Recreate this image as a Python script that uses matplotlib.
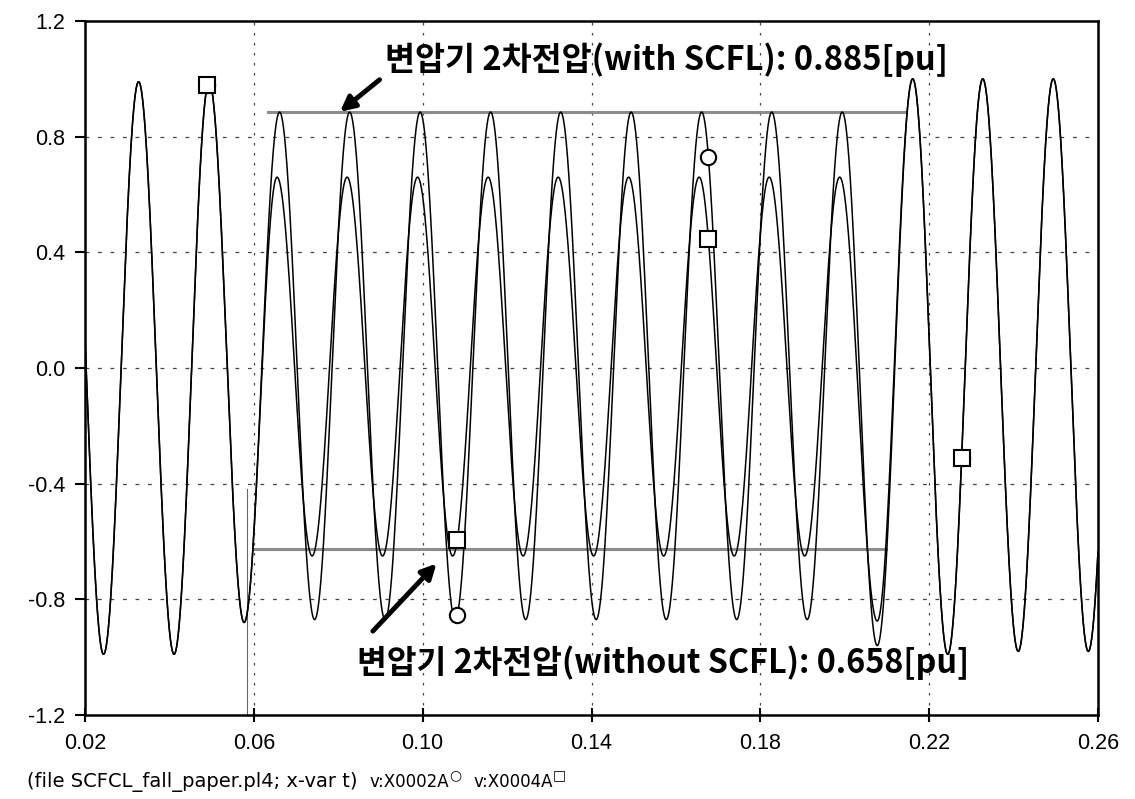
import numpy as np
import matplotlib
matplotlib.use("Agg")
import matplotlib.pyplot as plt

# ---------------- data ----------------
# extrema (peaks / troughs) of v:X0002A  (with SCFL)
t_ext_A = [0.0161, 0.0244, 0.0327, 0.0411, 0.0494, 0.0577, 0.0661, 0.0744, 0.0827,
           0.0911, 0.0994, 0.1077, 0.1161, 0.1244, 0.1327, 0.1411, 0.1494, 0.1577,
           0.1661, 0.1744, 0.1827, 0.1911, 0.1994, 0.2077, 0.2161, 0.2244, 0.2327,
           0.2411, 0.2494, 0.2577, 0.2661]
v_ext_A = [1.00, -0.99, 0.99, -0.99, 0.99, -0.88, 0.885, -0.87, 0.885,
           -0.87, 0.885, -0.87, 0.885, -0.87, 0.885, -0.87, 0.885, -0.87,
           0.885, -0.87, 0.885, -0.87, 0.885, -0.96, 1.00, -0.99, 1.00,
           -0.98, 1.00, -0.98, 1.00]
# extrema of v:X0004A  (without SCFL)
t_ext_B = [0.0161, 0.0244, 0.0327, 0.0411, 0.0494, 0.0577, 0.0655, 0.0738, 0.0821,
           0.0905, 0.0988, 0.1071, 0.1155, 0.1238, 0.1321, 0.1405, 0.1488, 0.1571,
           0.1655, 0.1738, 0.1821, 0.1905, 0.1988, 0.2077, 0.2161, 0.2244, 0.2327,
           0.2411, 0.2494, 0.2577, 0.2661]
v_ext_B = [1.00, -0.99, 0.99, -0.99, 0.99, -0.88, 0.66, -0.65, 0.66,
           -0.65, 0.66, -0.65, 0.66, -0.65, 0.66, -0.65, 0.66, -0.65,
           0.66, -0.65, 0.66, -0.65, 0.66, -0.875, 1.00, -0.99, 1.00,
           -0.98, 1.00, -0.98, 1.00]

marker_times = [0.0490, 0.1082, 0.1677, 0.2277]

level_with = 0.885          # reference line (with SCFL)
level_with_span = [0.0633, 0.2144]
level_without = -0.625      # reference line (without SCFL)
level_without_span = [0.0598, 0.2098]
fault_time = 0.0584

x_ticks = [0.02, 0.06, 0.10, 0.14, 0.18, 0.22, 0.26]
x_labels = ["0.02", "0.06", "0.10", "0.14", "0.18", "0.22", "0.26"]
y_ticks = [1.2, 0.8, 0.4, 0.0, -0.4, -0.8, -1.2]
y_labels = ["1.2", "0.8", "0.4", "0.0", "-0.4", "-0.8", "-1.2"]

label_with = "변압기 2차전압(with SCFL): 0.885[pu]"
label_without = "변압기 2차전압(without SCFL): 0.658[pu]"
footer = "(file SCFCL_fall_paper.pl4; x-var t)"
series_names = ["v:X0002A", "v:X0004A"]


def wave(t_ext, v_ext, t):
    """sinusoidal (half-cosine) shape between successive extrema"""
    t_ext = np.asarray(t_ext)
    v_ext = np.asarray(v_ext)
    idx = np.clip(np.searchsorted(t_ext, t) - 1, 0, len(t_ext) - 2)
    t0, t1 = t_ext[idx], t_ext[idx + 1]
    v0, v1 = v_ext[idx], v_ext[idx + 1]
    s = (t - t0) / (t1 - t0)
    return v0 + (v1 - v0) * (1 - np.cos(np.pi * s)) / 2


t = np.linspace(0.0162, 0.2660, 6000)
vA = wave(t_ext_A, v_ext_A, t)
vB = wave(t_ext_B, v_ext_B, t)
mt = np.asarray(marker_times)
mA = wave(t_ext_A, v_ext_A, mt)
mB = wave(t_ext_B, v_ext_B, mt)

# ---------------- figure ----------------
plt.rcParams['font.family'] = ['Liberation Sans', 'DejaVu Sans']
fig = plt.figure(figsize=(11.35, 7.99), dpi=100)
ax = fig.add_axes([85 / 1135, 1 - 715 / 799, (1098 - 85) / 1135, (715 - 21) / 799])

ax.set_xlim(0.02, 0.26)
ax.set_ylim(-1.2, 1.2)

# grid
for xv in x_ticks[1:-1]:
    ax.axvline(xv, color='#444444', lw=0.9, ls=(0, (2, 6)), zorder=1)
for yv in y_ticks[1:-1]:
    ax.axhline(yv, color='#444444', lw=0.9, ls=(0, (3, 7)), zorder=1)

# reference levels
ax.plot(level_with_span, [level_with] * 2, color='#8c8c8c', lw=2.2, zorder=2)
ax.plot(level_without_span, [level_without] * 2, color='#8c8c8c', lw=2.2, zorder=2)
ax.plot([fault_time] * 2, [-1.2, -0.42], color='#666666', lw=0.8, zorder=2)

# curves
ax.plot(t, vA, color='black', lw=1.1, zorder=3)
ax.plot(t, vB, color='black', lw=1.1, zorder=3)

# markers
ax.plot(mt, mA, ls='none', marker='o', ms=11, mfc='white', mec='black', mew=1.5, zorder=4)
ax.plot(mt, mB, ls='none', marker='s', ms=12, mfc='white', mec='black', mew=1.5, zorder=5)

# annotations
kfont = ['Noto Sans CJK KR', 'DejaVu Sans']
ax.text(0.0910, 1.066, label_with, family=kfont, fontweight='bold', fontsize=23.5,
        va='center', ha='left', zorder=6)
ax.text(0.0844, -1.02, label_without, family=kfont, fontweight='bold', fontsize=23.3,
        va='center', ha='left', zorder=6)
ax.annotate('', xy=(0.0804, 0.886), xytext=(0.0898, 0.997),
            arrowprops=dict(arrowstyle='-|>', lw=3.5, color='black', mutation_scale=22,
                            shrinkA=0, shrinkB=0), zorder=6)
ax.annotate('', xy=(0.1033, -0.676), xytext=(0.0882, -0.91),
            arrowprops=dict(arrowstyle='-|>', lw=3.5, color='black', mutation_scale=22,
                            shrinkA=0, shrinkB=0), zorder=6)

# axes styling
for sp in ax.spines.values():
    sp.set_linewidth(1.8)
    sp.set_color('black')
ax.set_xticks(x_ticks)
ax.set_xticklabels(x_labels)
ax.set_yticks(y_ticks)
ax.set_yticklabels(y_labels)
ax.tick_params(axis='x', direction='inout', length=10, width=1.5, pad=8, labelsize=15.5)
ax.tick_params(axis='y', direction='out', length=7, width=1.5, pad=7, labelsize=15.5)

# footer
fy = 1 - 782 / 799
ffont = ['DejaVu Sans']
fig.text(27 / 1135, fy, footer, fontsize=14, va='center', ha='left', family=ffont)
fig.text(370 / 1135, fy, series_names[0], fontsize=12, va='center', ha='left', family=ffont)
fig.text(449 / 1135, fy + 0.008, "○", fontsize=10, va='center', ha='left', family=ffont)
fig.text(474 / 1135, fy, series_names[1], fontsize=12, va='center', ha='left', family=ffont)
fig.text(553 / 1135, fy + 0.008, "□", fontsize=10, va='center', ha='left', family=ffont)

fig.savefig("out.png", dpi=100, facecolor='white')
